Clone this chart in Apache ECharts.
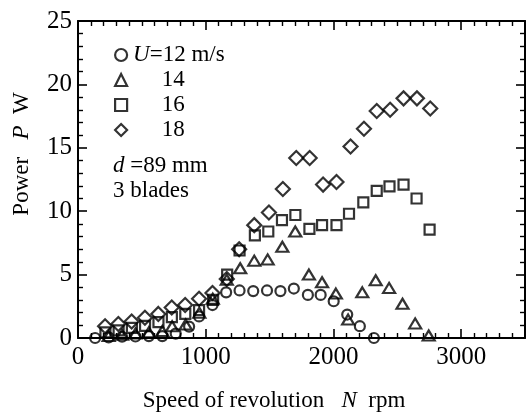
<!DOCTYPE html>
<html>
<head>
<meta charset="utf-8">
<script src="https://cdn.jsdelivr.net/npm/echarts@6/dist/echarts.min.js"></script>
<style>
  html, body { margin: 0; padding: 0; background: #fff; }
  #chart { width: 532px; height: 419px; }
</style>
</head>
<body>
<div id="chart"></div>
<script>
// Wind speed U = 12 m/s
const rpm12 = [134, 240, 345, 450, 555, 660, 765, 870, 948, 1053, 1160, 1265, 1372, 1480, 1585, 1690, 1800, 1900, 2002, 2108, 2207, 2317];
const power12 = [0.0, 0.05, 0.1, 0.12, 0.15, 0.15, 0.35, 0.9, 1.7, 2.6, 3.6, 3.75, 3.7, 3.75, 3.7, 3.9, 3.4, 3.4, 2.9, 1.85, 0.93, 0.0];
// U = 14 m/s
const rpm14 = [240, 345, 450, 555, 660, 737, 843, 950, 1055, 1165, 1270, 1380, 1485, 1600, 1701, 1808, 1911, 2019, 2115, 2226, 2331, 2436, 2541, 2640, 2746];
const power14 = [0.15, 0.25, 0.35, 0.45, 0.55, 0.93, 1.06, 2.0, 3.1, 4.6, 5.5, 6.1, 6.2, 7.2, 8.4, 5.0, 4.4, 3.5, 1.45, 3.6, 4.55, 3.95, 2.7, 1.15, 0.2];
// U = 16 m/s
const rpm16 = [215, 318, 422, 525, 630, 735, 840, 948, 1058, 1168, 1265, 1385, 1490, 1597, 1702, 1812, 1911, 2024, 2122, 2234, 2339, 2439, 2549, 2651, 2753];
const power16 = [0.45, 0.6, 0.8, 0.95, 1.25, 1.65, 1.9, 2.2, 3.0, 5.0, 6.9, 8.1, 8.4, 9.3, 9.7, 8.6, 8.9, 8.9, 9.8, 10.7, 11.6, 11.95, 12.1, 11.0, 8.55];
// U = 18 m/s
const rpm18 = [212, 316, 420, 524, 629, 734, 839, 948, 1053, 1165, 1262, 1380, 1495, 1604, 1709, 1814, 1919, 2024, 2134, 2239, 2339, 2444, 2549, 2654, 2758];
const power18 = [0.93, 1.1, 1.3, 1.6, 1.9, 2.4, 2.6, 3.1, 3.55, 4.65, 7.0, 8.9, 9.9, 11.75, 14.2, 14.2, 12.1, 12.3, 15.1, 16.5, 17.9, 18.0, 18.9, 18.9, 18.1];

const seriesNames = ['12', '14', '16', '18'];
const xTicks = [0, 1000, 2000, 3000];
const yTicks = [0, 5, 10, 15, 20, 25];

const FONT = 'Liberation Serif';
const pair = (xs, ys) => xs.map((x, i) => [x, ys[i]]);

const chart = echarts.init(document.getElementById('chart'), null, { renderer: 'canvas' });

const markStyle = { color: 'rgba(0,0,0,0)', borderColor: '#000', borderWidth: 2.2 };

function mkSeries(name, data, symbol, size) {
  return {
    name: name, type: 'scatter', data: data,
    symbol: symbol, symbolSize: size,
    itemStyle: markStyle,
    emphasis: { disabled: true },
    xAxisIndex: 0, yAxisIndex: 0
  };
}

const axisCommon = {
  axisLine: { show: true, onZero: false, lineStyle: { color: '#000', width: 2 } },
  axisTick: { show: true, inside: true, length: 9, lineStyle: { color: '#000', width: 1.6 } },
  minorTick: { show: true, length: 5, lineStyle: { color: '#000', width: 1.4 } },
  splitLine: { show: false },
  minorSplitLine: { show: false }
};

const italic = { fontStyle: 'italic', fontFamily: FONT, fontSize: 23, color: '#000' };

const option = {
  backgroundColor: '#fff',
  animation: false,
  grid: { left: 78, right: 7, top: 21, bottom: 81, containLabel: false },
  xAxis: [
    Object.assign({}, axisCommon, {
      type: 'value', min: 0, max: 3500, interval: 1000, position: 'bottom',
      minorTick: Object.assign({}, axisCommon.minorTick, { splitNumber: 10 }),
      axisLabel: {
        color: '#000', fontFamily: FONT, fontSize: 25, margin: 7,
        formatter: v => (xTicks.indexOf(v) >= 0 ? String(v) : '')
      }
    }),
    Object.assign({}, axisCommon, {
      type: 'value', min: 0, max: 3500, interval: 1000, position: 'top',
      minorTick: Object.assign({}, axisCommon.minorTick, { splitNumber: 10 }),
      axisLabel: { show: false }
    })
  ],
  yAxis: [
    Object.assign({}, axisCommon, {
      type: 'value', min: 0, max: 25, interval: 5, position: 'left',
      minorTick: Object.assign({}, axisCommon.minorTick, { splitNumber: 5 }),
      axisLabel: {
        color: '#000', fontFamily: FONT, fontSize: 25, margin: 6,
        formatter: v => (yTicks.indexOf(v) >= 0 ? String(v) : '')
      }
    }),
    Object.assign({}, axisCommon, {
      type: 'value', min: 0, max: 25, interval: 5, position: 'right',
      minorTick: Object.assign({}, axisCommon.minorTick, { splitNumber: 5 }),
      axisLabel: { show: false }
    })
  ],
  legend: {
    show: true, orient: 'vertical', left: 109, top: 38,
    itemWidth: 12, itemHeight: 12, itemGap: 1,
    selectedMode: false,
    data: [
      { name: '12', icon: 'circle' },
      { name: '14', icon: 'triangle' },
      { name: '16', icon: 'rect' },
      { name: '18', icon: 'diamond' }
    ],
    itemStyle: { color: 'rgba(0,0,0,0)', borderColor: '#000', borderWidth: 2.2 },
    formatter: n => (n === '12' ? '{i|U}=12 m/s' : '     ' + n),
    textStyle: {
      color: '#000', fontFamily: FONT, fontSize: 23, lineHeight: 24, padding: [0, 0, 0, 1],
      rich: { i: italic }
    }
  },
  graphic: [
    {
      type: 'text', left: 113, top: 154,
      style: {
        text: '{i|d} =89 mm', fill: '#000', font: '23px "' + FONT + '"',
        rich: { i: { fontStyle: 'italic', fontFamily: FONT, fontSize: 23, fill: '#000' } }
      }
    },
    {
      type: 'text', left: 113, top: 179,
      style: { text: '3 blades', fill: '#000', font: '23px "' + FONT + '"' }
    },
    {
      type: 'text', x: 274, y: 401,
      style: {
        text: 'Speed of revolution   {i|N}  rpm', fill: '#000', font: '23px "' + FONT + '"',
        align: 'center', verticalAlign: 'middle',
        rich: { i: { fontStyle: 'italic', fontFamily: FONT, fontSize: 23, fill: '#000' } }
      }
    },
    {
      type: 'text', x: 22, y: 154, rotation: Math.PI / 2,
      style: {
        text: 'Power   {i|P}  W', fill: '#000', font: '23px "' + FONT + '"',
        align: 'center', verticalAlign: 'middle',
        rich: { i: { fontStyle: 'italic', fontFamily: FONT, fontSize: 23, fill: '#000' } }
      }
    }
  ],
  series: [
    mkSeries('12', pair(rpm12, power12), 'circle', 10),
    mkSeries('14', pair(rpm14, power14), 'triangle', [12, 10]),
    mkSeries('16', pair(rpm16, power16), 'rect', 10),
    mkSeries('18', pair(rpm18, power18), 'diamond', 14)
  ]
};

chart.setOption(option);
</script>
</body>
</html>
